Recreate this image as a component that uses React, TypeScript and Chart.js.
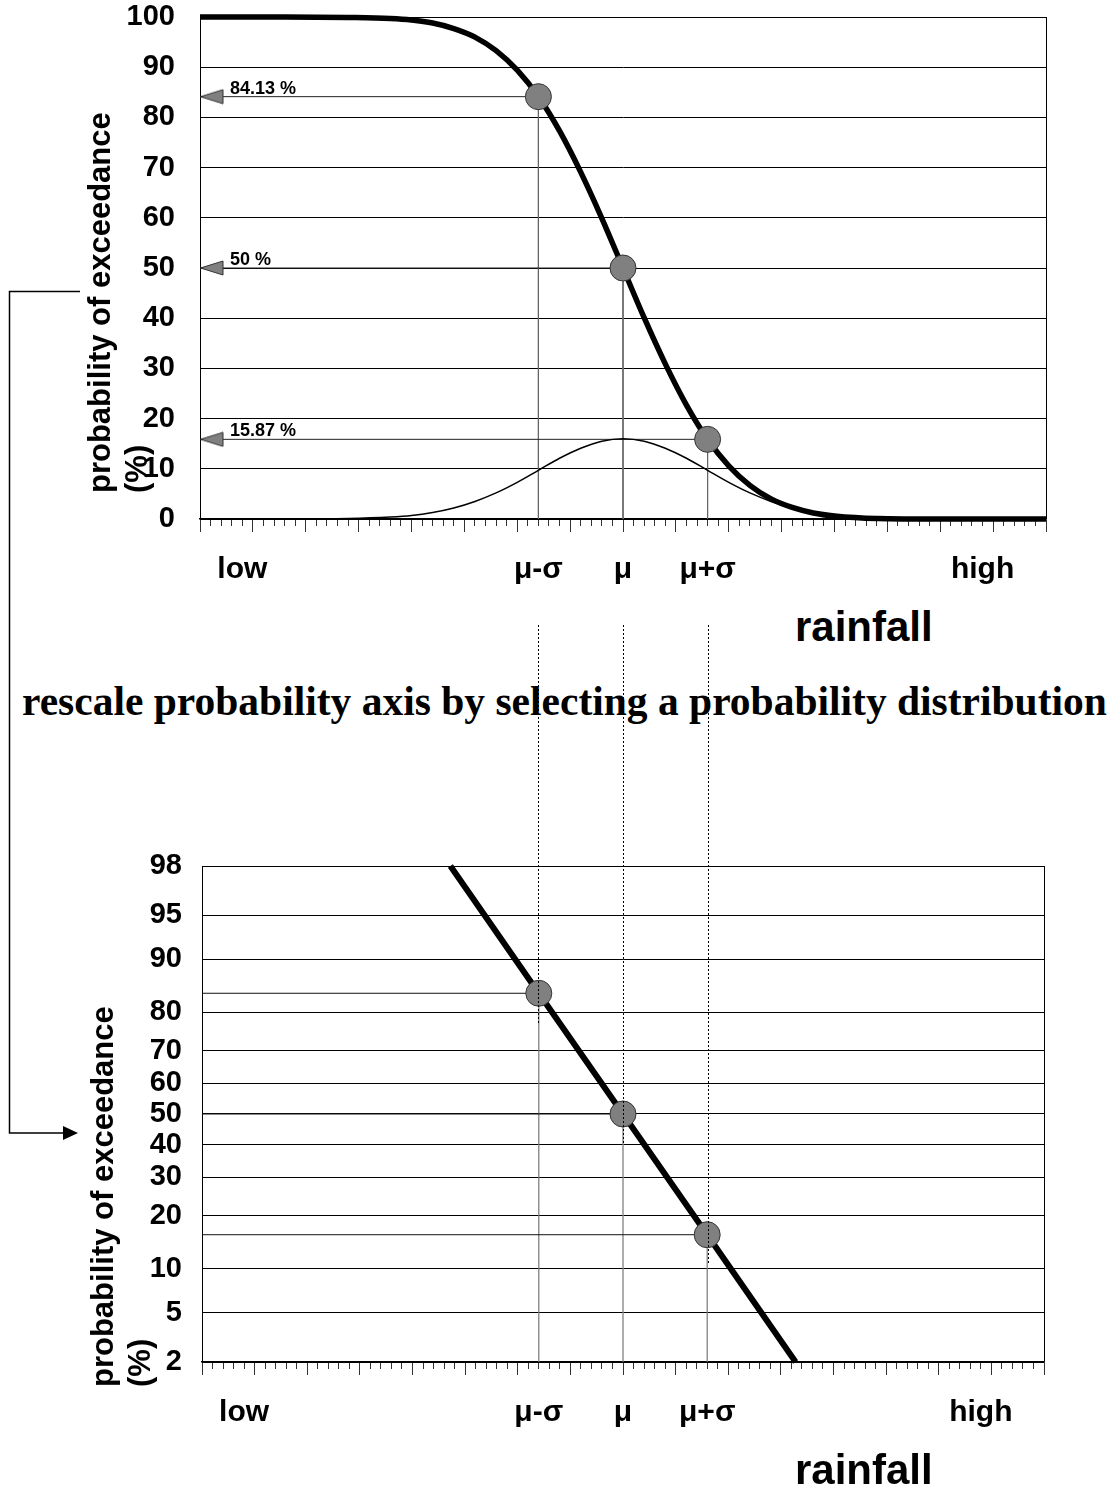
import React, { useEffect, useRef, useState } from 'react';
import { Chart, registerables, Scale } from 'chart.js';

// ---------------- data ----------------
const X_MIN = 0;
const X_MAX = 80;
const X_LABEL_POS = [4, 32, 40, 48, 74];
const X_LABEL_TEXT = ['low', 'μ-σ', 'μ', 'μ+σ', 'high'];

const Y1_MIN = 0;
const Y1_MAX = 100;
const Y1_STEP = 10;

// probability of exceedance curve
const CDF_X = [0, 8, 14, 18, 20, 22, 24, 26, 28, 30, 32, 34, 36, 38, 40, 42, 44, 46, 48, 50, 52, 54, 56, 58, 60, 64, 70, 80];
const CDF_Y = [100, 100, 99.9, 99.7, 99.4, 98.8, 97.7, 96.0, 93.3, 89.4, 84.13, 77.3, 69.1, 59.9, 50, 40.1, 30.9, 22.7, 15.87, 10.6, 6.7, 4.0, 2.3, 1.2, 0.6, 0.1, 0, 0];

// bell shaped frequency curve
const PDF_X = [0, 8, 14, 18, 20, 22, 24, 26, 28, 30, 32, 34, 36, 38, 40, 42, 44, 46, 48, 50, 52, 54, 56, 58, 60, 64, 70, 80];
const PDF_Y = [0, 0, 0.1, 0.4, 0.7, 1.3, 2.2, 3.5, 5.2, 7.3, 9.7, 12.1, 14.1, 15.5, 16, 15.5, 14.1, 12.1, 9.7, 7.3, 5.2, 3.5, 2.2, 1.3, 0.7, 0.2, 0, 0];

const MARK_X = [32, 40, 48];
const MARK_P = [84.13, 50, 15.87];
const MARK_LABELS = ['84.13 %', '50 %', '15.87 %'];

const Y2_MIN = 2;
const Y2_MAX = 98;
const Y2_TICKS = [98, 95, 90, 80, 70, 60, 50, 40, 30, 20, 10, 5, 2];
const LINE2_X = [23.6, 32, 40, 48, 56.4];
const LINE2_P = [98, 84.13, 50, 15.87, 2];

// ---------------- layout ----------------
const TOP_H = 600;
const BOT_TOP = 840;
const BOT_H = 620;
const FONT = '"Liberation Sans", Arial, Helvetica, sans-serif';

// inverse standard normal CDF (Acklam), argument in percent
function probit(pct: number): number {
  const p = Math.min(Math.max(pct / 100, 1e-9), 1 - 1e-9);
  const a = [-3.969683028665376e1, 2.209460984245205e2, -2.759285104469687e2, 1.38357751867269e2, -3.066479806614716e1, 2.506628277459239];
  const b = [-5.447609879822406e1, 1.615858368580409e2, -1.556989798598866e2, 6.680131188771972e1, -1.328068155288572e1];
  const c = [-7.784894002430293e-3, -3.223964580411365e-1, -2.400758277161838, -2.549732539343734, 4.374664141464968, 2.938163982698783];
  const d = [7.784695709041462e-3, 3.224671290700398e-1, 2.445134137142996, 3.754408661907416];
  const pl = 0.02425;
  if (p < pl) {
    const q = Math.sqrt(-2 * Math.log(p));
    return (((((c[0] * q + c[1]) * q + c[2]) * q + c[3]) * q + c[4]) * q + c[5]) / ((((d[0] * q + d[1]) * q + d[2]) * q + d[3]) * q + 1);
  }
  if (p <= 1 - pl) {
    const q = p - 0.5;
    const r = q * q;
    return ((((((a[0] * r + a[1]) * r + a[2]) * r + a[3]) * r + a[4]) * r + a[5]) * q) / (((((b[0] * r + b[1]) * r + b[2]) * r + b[3]) * r + b[4]) * r + 1);
  }
  const q = Math.sqrt(-2 * Math.log(1 - p));
  return -(((((c[0] * q + c[1]) * q + c[2]) * q + c[3]) * q + c[4]) * q + c[5]) / ((((d[0] * q + d[1]) * q + d[2]) * q + d[3]) * q + 1);
}

function normCdf(z: number): number {
  const t = 1 / (1 + 0.2316419 * Math.abs(z));
  const y = 0.3989423 * Math.exp((-z * z) / 2);
  const p = y * t * (0.3193815 + t * (-0.3565638 + t * (1.781478 + t * (-1.821256 + t * 1.330274))));
  return z > 0 ? 1 - p : p;
}

// normal probability (probit) axis
class ProbitScale extends (Scale as any) {
  static id = 'probit';
  static defaults = {};
  determineDataLimits() {
    const o: any = (this as any).options;
    (this as any).min = o.min ?? Y2_MIN;
    (this as any).max = o.max ?? Y2_MAX;
  }
  buildTicks() {
    return Y2_TICKS.map((value) => ({ value }));
  }
  configure() {
    super.configure();
    (this as any)._zMin = probit((this as any).min);
    (this as any)._zMax = probit((this as any).max);
  }
  getLabelForValue(v: number) {
    return String(v);
  }
  getPixelForValue(v: number) {
    const s: any = this;
    return s.getPixelForDecimal((probit(v) - s._zMin) / (s._zMax - s._zMin));
  }
  getValueForPixel(px: number) {
    const s: any = this;
    const z = s._zMin + s.getDecimalForPixel(px) * (s._zMax - s._zMin);
    return 100 * normCdf(z);
  }
  getPixelForTick(i: number) {
    const s: any = this;
    return s.getPixelForValue(s.ticks[i].value);
  }
}

Chart.register(...registerables, ProbitScale as any);
Chart.defaults.font.family = FONT;

const pts = (xs: number[], ys: number[]) => xs.map((x, i) => ({ x, y: ys[i] }));

function makeArrow(): HTMLCanvasElement {
  const c = document.createElement('canvas');
  c.width = 48;
  c.height = 16;
  const g = c.getContext('2d')!;
  g.beginPath();
  g.moveTo(24.5, 8);
  g.lineTo(47, 1);
  g.lineTo(47, 15);
  g.closePath();
  g.fillStyle = '#808080';
  g.fill();
  g.strokeStyle = '#333';
  g.lineWidth = 1;
  g.stroke();
  return c;
}

const framePlugin = {
  id: 'frame',
  beforeDatasetsDraw(chart: any) {
    const { left, top, right, bottom } = chart.chartArea;
    const ctx = chart.ctx;
    ctx.save();
    ctx.strokeStyle = '#000';
    ctx.lineWidth = 1;
    ctx.beginPath();
    ctx.moveTo(Math.round(right) + 0.5, top);
    ctx.lineTo(Math.round(right) + 0.5, bottom);
    ctx.moveTo(left, Math.round(top) + 0.5);
    ctx.lineTo(right, Math.round(top) + 0.5);
    ctx.stroke();
    ctx.restore();
  },
};

const annotLabelPlugin = {
  id: 'annotLabels',
  afterDatasetsDraw(chart: any) {
    const ctx = chart.ctx;
    chart.data.datasets.forEach((ds: any, i: number) => {
      if (!ds.annotText) return;
      const p0 = chart.getDatasetMeta(i).data[0];
      ctx.save();
      ctx.font = `bold 18px ${FONT}`;
      ctx.fillStyle = '#000';
      ctx.textBaseline = 'alphabetic';
      ctx.textAlign = 'left';
      ctx.fillText(ds.annotText, p0.x + 30, p0.y - 3);
      ctx.restore();
    });
  },
};

const xAxis = (height: number) => ({
  type: 'linear',
  min: X_MIN,
  max: X_MAX,
  afterFit: (s: any) => {
    s.height = height;
  },
  ticks: {
    stepSize: 1,
    autoSkip: false,
    maxRotation: 0,
    minRotation: 0,
    padding: 20,
    color: '#000',
    font: { size: 30, weight: 'bold' },
    callback: (v: number) => {
      const i = X_LABEL_POS.indexOf(v);
      return i >= 0 ? X_LABEL_TEXT[i] : '';
    },
  },
  grid: {
    display: true,
    drawOnChartArea: false,
    drawTicks: true,
    tickLength: 13,
    tickColor: '#333',
    tickWidth: 1,
    tickBorderDash: (c: any) => (c.tick && c.tick.value % 5 === 0 ? [] : [6.5, 100]),
  },
  border: { display: true, color: '#000', width: 1.5 },
});

const yAfterFit = (width: number) => (s: any) => {
  s.width = width;
  s.paddingTop = 0;
  s.paddingBottom = 0;
};

const commonOpts = {
  animation: false,
  responsive: false,
  events: [],
  plugins: { legend: { display: false }, tooltip: { enabled: false } },
};

export default function App() {
  const topRef = useRef<HTMLCanvasElement>(null);
  const botRef = useRef<HTMLCanvasElement>(null);
  const [guides, setGuides] = useState<{ x: number; y2: number }[]>([]);

  useEffect(() => {
    const arrow = makeArrow();

    const topDatasets: any[] = [
      {
        data: pts(MARK_X, MARK_P),
        showLine: false,
        pointRadius: 13,
        pointBackgroundColor: '#808080',
        pointBorderColor: '#333',
        pointBorderWidth: 1,
        clip: false,
      },
      { data: pts(CDF_X, CDF_Y), borderColor: '#000', borderWidth: 5.5, pointRadius: 0, cubicInterpolationMode: 'monotone', clip: false },
      { data: pts(PDF_X, PDF_Y), borderColor: '#000', borderWidth: 1.5, pointRadius: 0, cubicInterpolationMode: 'monotone' },
      ...MARK_X.map((mx, i) => ({
        data: [
          { x: X_MIN, y: MARK_P[i] },
          { x: mx, y: MARK_P[i] },
        ],
        borderColor: '#222',
        borderWidth: 1,
        pointStyle: (c: any) => (c.dataIndex === 0 ? arrow : 'circle'),
        pointRadius: (c: any) => (c.dataIndex === 0 ? 6 : 0),
        annotText: MARK_LABELS[i],
      })),
      ...MARK_X.map((mx, i) => ({
        data: [
          { x: mx, y: MARK_P[i] },
          { x: mx, y: Y1_MIN },
        ],
        borderColor: '#666',
        borderWidth: 1,
        pointRadius: 0,
      })),
    ];

    const top = new Chart(topRef.current!, {
      type: 'line',
      data: { datasets: topDatasets },
      options: {
        ...commonOpts,
        layout: { padding: { left: 0, right: 74, top: 17, bottom: 0 } },
        scales: {
          x: xAxis(TOP_H - 519),
          y: {
            type: 'linear',
            min: Y1_MIN,
            max: Y1_MAX,
            afterFit: yAfterFit(200),
            ticks: { stepSize: Y1_STEP, color: '#000', padding: 25, font: { size: 29, weight: 'bold' } },
            grid: { color: '#000', lineWidth: 1, drawTicks: false },
            border: { display: true, color: '#000', width: 1 },
          },
        },
      } as any,
      plugins: [framePlugin, annotLabelPlugin],
    } as any);

    const botDatasets: any[] = [
      {
        data: pts(MARK_X, MARK_P),
        showLine: false,
        pointRadius: 13,
        pointBackgroundColor: '#808080',
        pointBorderColor: '#333',
        pointBorderWidth: 1,
        clip: false,
      },
      { data: pts(LINE2_X, LINE2_P), borderColor: '#000', borderWidth: 6, pointRadius: 0, clip: false },
      ...MARK_X.map((mx, i) => ({
        data: [
          { x: X_MIN, y: MARK_P[i] },
          { x: mx, y: MARK_P[i] },
        ],
        borderColor: '#111',
        borderWidth: 1,
        pointRadius: 0,
      })),
      ...MARK_X.map((mx, i) => ({
        data: [
          { x: mx, y: MARK_P[i] },
          { x: mx, y: Y2_MIN },
        ],
        borderColor: '#777',
        borderWidth: 1.2,
        pointRadius: 0,
      })),
    ];

    const bot = new Chart(botRef.current!, {
      type: 'line',
      data: { datasets: botDatasets },
      options: {
        ...commonOpts,
        layout: { padding: { left: 0, right: 76, top: 866 - BOT_TOP, bottom: 0 } },
        scales: {
          x: xAxis(BOT_H - (1362 - BOT_TOP)),
          y: {
            type: 'probit',
            min: Y2_MIN,
            max: Y2_MAX,
            afterFit: yAfterFit(202),
            ticks: { autoSkip: false, color: '#000', padding: 20, font: { size: 29, weight: 'bold' } },
            grid: { color: '#000', lineWidth: 1, drawTicks: false },
            border: { display: true, color: '#000', width: 1 },
          },
        },
      } as any,
      plugins: [framePlugin],
    } as any);

    const xs: any = top.scales.x;
    const ys2: any = bot.scales.y;
    setGuides(
      MARK_X.map((mx, i) => ({
        x: Math.round(xs.getPixelForValue(mx)) + 0.5,
        y2: BOT_TOP + ys2.getPixelForValue(MARK_P[i]) + 30,
      }))
    );

    return () => {
      top.destroy();
      bot.destroy();
    };
  }, []);

  const yTitle = (left: number, topPx: number) => (
    <div
      style={{
        position: 'absolute',
        left,
        top: topPx,
        transformOrigin: 'left top',
        transform: 'rotate(-90deg)',
        font: `bold 31px ${FONT}`,
        lineHeight: '37px',
        whiteSpace: 'pre',
        color: '#000',
      }}
    >
      {'probability of exceedance'}
      <br />
      {'(%)'}
    </div>
  );

  const rainfall = (topPx: number) => (
    <div
      style={{
        position: 'absolute',
        left: 795,
        top: topPx,
        font: `bold 42px ${FONT}`,
        lineHeight: '42px',
        whiteSpace: 'pre',
        color: '#000',
      }}
    >
      rainfall
    </div>
  );

  return (
    <div
      style={{
        position: 'absolute',
        left: 0,
        top: 0,
        width: 1120,
        height: 1491,
        background: '#fff',
        overflow: 'hidden',
      }}
    >
      <canvas ref={topRef} width={1120} height={TOP_H} style={{ position: 'absolute', left: 0, top: 0 }} />
      <canvas ref={botRef} width={1120} height={BOT_H} style={{ position: 'absolute', left: 0, top: BOT_TOP }} />
      {yTitle(81, 493)}
      {yTitle(84, 1387)}
      {rainfall(606)}
      {rainfall(1449)}
      <div
        style={{
          position: 'absolute',
          left: 22,
          top: 681,
          font: 'bold 41.5px "Liberation Serif", "Times New Roman", Times, serif',
          lineHeight: '41.5px',
          whiteSpace: 'nowrap',
          color: '#000',
        }}
      >
        rescale probability axis by selecting a probability distribution
      </div>
      <svg
        width={1120}
        height={1491}
        style={{ position: 'absolute', left: 0, top: 0, pointerEvents: 'none' }}
      >
        {guides.map((g, i) => (
          <line key={i} x1={g.x} y1={625} x2={g.x} y2={g.y2} stroke="#000" strokeWidth={1} strokeDasharray="2 2" />
        ))}
        <polyline points="80,291.5 9.5,291.5 9.5,1133 64,1133" fill="none" stroke="#000" strokeWidth={1.5} />
        <polygon points="63,1126 78,1133 63,1140" fill="#000" />
      </svg>
    </div>
  );
}
